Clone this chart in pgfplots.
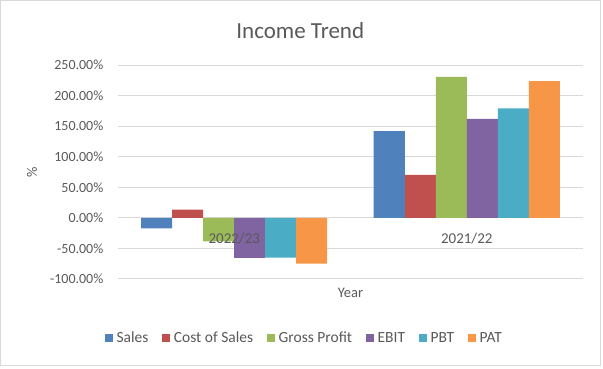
\documentclass[border=0pt]{standalone}
\usepackage{pgfplots}
\pgfplotsset{compat=1.18}
\usepackage{fontspec}
\setmainfont{Carlito}
\definecolor{cSales}{HTML}{4F81BD}
\definecolor{cCost}{HTML}{C0504D}
\definecolor{cGP}{HTML}{9BBB59}
\definecolor{cEBIT}{HTML}{8064A2}
\definecolor{cPBT}{HTML}{4BACC6}
\definecolor{cPAT}{HTML}{F79646}
\definecolor{txt}{HTML}{595959}
\definecolor{grd}{HTML}{D9D9D9}
\begin{document}
\begin{tikzpicture}
\begin{axis}[
  name=ax, at={(0,0)}, anchor=south west,
  scale only axis, width=465pt, height=214pt,
  ybar=0pt, bar width=31pt,
  xmin=-0.5, xmax=1.5, ymin=-100, ymax=250,
  ytick={-100,-50,0,50,100,150,200,250},
  xtick={0,1}, xticklabels={,},
  axis x line=middle, axis y line=left,
  axis line style={-, draw=none},
  tick style={draw=none},
  ymajorgrids, grid style={grd, line width=1pt},
  /pgf/number format/assume math mode=true,
  yticklabel={\pgfmathprintnumber[fixed,fixed zerofill,precision=2]{\tick}\%},
  ticklabel style={font=\fontsize{14}{16}\selectfont, text=txt},
  yticklabel style={xshift=-9pt},
  legend columns=6,
  legend style={draw=none, at={(axis description cs:0.401,-0.276)}, anchor=center,
    font=\fontsize{15.5}{18}\selectfont, text=txt,
    /tikz/every even column/.append style={column sep=12pt},
    /tikz/every odd column/.append style={column sep=1.5pt}},
  legend image code/.code={\fill[#1] (0pt,-4pt) rectangle (8pt,4pt);},
  clip=false,
]
\addplot[fill=cSales, draw=none] coordinates {(0,-17) (1,142)};
\addplot[fill=cCost, draw=none] coordinates {(0,13.5) (1,70.5)};
\addplot[fill=cGP, draw=none] coordinates {(0,-38.5) (1,230.5)};
\addplot[fill=cEBIT, draw=none] coordinates {(0,-65.5) (1,162)};
\addplot[fill=cPBT, draw=none] coordinates {(0,-65) (1,179)};
\addplot[fill=cPAT, draw=none] coordinates {(0,-75) (1,223.5)};
\legend{Sales,Cost of Sales,Gross Profit,EBIT,PBT,PAT}
\node[font=\fontsize{15}{17}\selectfont, text=txt, yshift=-21pt] at (axis cs:0,0) {2022/23};
\node[font=\fontsize{15}{17}\selectfont, text=txt, yshift=-21pt] at (axis cs:1,0) {2021/22};
\node[font=\fontsize{23}{27}\selectfont, text=txt] at (axis description cs:0.392,1.159) {Income Trend};
\node[font=\fontsize{14.5}{16}\selectfont, text=txt] at (axis description cs:0.5,-0.065) {Year};
\node[font=\fontsize{14.5}{16}\selectfont, text=txt, rotate=90] at (axis description cs:-0.185,0.5) {\%};
\end{axis}
\draw[grd, line width=1pt] ([shift={(-117.5pt,-86.5pt)}]ax.south west) rectangle ([shift={(482.5pt,278.5pt)}]ax.south west);
\pgfresetboundingbox
\useasboundingbox ([shift={(-118pt,-90pt)}]ax.south west) rectangle ([shift={(485pt,279pt)}]ax.south west);
\end{tikzpicture}
\end{document}
